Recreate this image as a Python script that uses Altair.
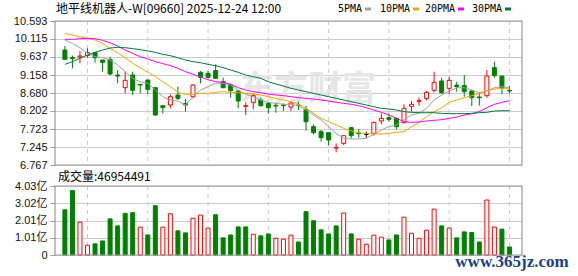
import json
import altair as alt
import pandas as pd

# ---------------- data ----------------
dates = ["09-29", "09-30", "10-02", "10-03", "10-06", "10-08", "10-09", "10-10", "10-13", "10-14",
         "10-15", "10-16", "10-17", "10-20", "10-21", "10-22", "10-23", "10-24", "10-27", "10-28",
         "10-30", "10-31", "11-03", "11-04", "11-05", "11-06", "11-07", "11-10", "11-11", "11-12",
         "11-13", "11-14", "11-17", "11-18", "11-19", "11-20", "11-21", "11-24", "11-25", "11-26",
         "11-27", "11-28", "12-01", "12-02", "12-03", "12-04", "12-05", "12-08", "12-09", "12-10",
         "12-11", "12-12", "12-15", "12-16", "12-17", "12-18", "12-19", "12-22", "12-23", "12-24"]

opens = [9.822, 9.618, 9.636, 9.672, 9.751, 9.556, 9.574, 9.158, 8.821, 9.158,
         8.910, 9.025, 8.821, 8.343, 8.361, 8.627, 8.405, 8.582, 9.229, 9.202,
         9.273, 8.981, 8.892, 8.733, 8.325, 8.432, 8.494, 8.405, 8.352, 8.361,
         8.308, 8.361, 8.246, 7.785, 7.652, 7.626, 7.218, 7.342, 7.759, 7.617,
         7.582, 7.608, 7.936, 8.024, 8.007, 7.891, 8.325, 8.458, 8.538, 8.751,
         8.999, 8.804, 8.892, 8.875, 8.733, 8.573, 8.609, 9.353, 9.131, 8.751]

closes = [9.574, 9.592, 9.663, 9.751, 9.618, 9.494, 9.185, 9.131, 9.016, 8.751,
          8.892, 8.777, 8.095, 8.290, 8.582, 8.538, 8.361, 8.892, 9.096, 9.096,
          9.069, 8.821, 8.742, 8.467, 8.343, 8.609, 8.343, 8.290, 8.334, 8.343,
          8.414, 8.343, 7.918, 7.626, 7.493, 7.431, 7.236, 7.546, 7.546, 7.599,
          7.582, 7.900, 8.007, 7.980, 7.785, 8.272, 8.379, 8.476, 8.697, 8.963,
          8.689, 9.016, 8.848, 8.715, 8.556, 8.556, 9.131, 9.140, 8.804, 8.733]

highs = [9.928, 9.672, 9.796, 9.866, 9.751, 9.556, 9.645, 9.291, 9.246, 9.246,
         8.910, 9.025, 8.821, 8.343, 8.644, 8.848, 8.520, 8.910, 9.264, 9.264,
         9.441, 9.087, 8.937, 8.733, 8.432, 8.662, 8.556, 8.432, 8.432, 8.405,
         8.449, 8.449, 8.343, 7.847, 7.697, 7.635, 7.342, 7.564, 7.785, 7.723,
         7.652, 7.918, 8.139, 8.139, 8.024, 8.379, 8.467, 8.556, 8.733, 9.246,
         9.087, 9.114, 8.981, 9.158, 8.759, 8.697, 9.291, 9.512, 9.131, 8.866]

lows = [9.556, 9.335, 9.468, 9.618, 9.486, 9.246, 9.158, 8.937, 8.671, 8.627,
        8.671, 8.653, 8.077, 8.131, 8.272, 8.494, 8.184, 8.538, 8.937, 9.069,
        9.052, 8.804, 8.556, 8.272, 8.095, 8.246, 8.317, 8.131, 8.157, 8.201,
        8.201, 8.228, 7.679, 7.582, 7.387, 7.280, 7.103, 7.298, 7.475, 7.493,
        7.493, 7.546, 7.847, 7.918, 7.714, 7.874, 8.184, 8.343, 8.485, 8.697,
        8.653, 8.653, 8.715, 8.582, 8.334, 8.343, 8.556, 9.087, 8.653, 8.671]

volumes = [264000000, 376000000, 192000000, 57000000, 65000000, 82000000, 211000000, 170000000, 243000000, 247000000,
           163000000, 117000000, 288000000, 163000000, 241000000, 141000000, 129000000, 215000000, 233000000, 157000000,
           235000000, 100000000, 117000000, 164000000, 164000000, 121000000, 112000000, 123000000, 98000000, 92000000,
           116000000, 76000000, 253000000, 200000000, 147000000, 123000000, 170000000, 245000000, 123000000, 92000000,
           63000000, 116000000, 104000000, 88000000, 117000000, 221000000, 127000000, 98000000, 145000000, 268000000,
           170000000, 157000000, 100000000, 135000000, 131000000, 76000000, 321000000, 163000000, 151000000, 46954491]

# volume bar colour as drawn (R = red hollow, G = green filled)
vol_colour = ["G", "G", "R", "R", "G", "G", "G", "G", "G", "G",
              "R", "G", "G", "R", "R", "G", "G", "R", "R", "R",
              "G", "G", "G", "G", "G", "R", "G", "G", "R", "R",
              "R", "G", "G", "G", "G", "G", "G", "R", "G", "R",
              "R", "R", "R", "G", "G", "R", "R", "R", "R", "R",
              "G", "R", "G", "G", "G", "G", "R", "R", "G", "G"]

ma5 = [10.088, 9.999, 9.884, 9.734, 9.645, 9.618, 9.556, 9.424, 9.246, 9.069,
       8.981, 8.937, 8.759, 8.582, 8.494, 8.467, 8.361, 8.582, 8.759, 8.848,
       8.937, 8.937, 8.892, 8.759, 8.644, 8.582, 8.494, 8.432, 8.405, 8.379,
       8.379, 8.343, 8.228, 8.095, 7.962, 7.785, 7.608, 7.475, 7.458, 7.458,
       7.475, 7.582, 7.697, 7.785, 7.830, 7.962, 8.095, 8.139, 8.272, 8.494,
       8.627, 8.733, 8.821, 8.821, 8.759, 8.689, 8.733, 8.821, 8.848, 8.821]

ma10 = [10.265, 10.221, 10.176, 10.132, 10.088, 9.999, 9.866, 9.751, 9.618, 9.468,
        9.353, 9.229, 9.114, 8.981, 8.848, 8.697, 8.644, 8.644, 8.671, 8.671,
        8.697, 8.715, 8.697, 8.689, 8.671, 8.653, 8.627, 8.582, 8.538, 8.494,
        8.449, 8.379, 8.272, 8.139, 8.007, 7.918, 7.830, 7.741, 7.670, 7.626,
        7.608, 7.590, 7.590, 7.608, 7.635, 7.652, 7.785, 7.900, 8.051, 8.184,
        8.290, 8.432, 8.494, 8.556, 8.609, 8.662, 8.733, 8.786, 8.804, 8.804]

ma20 = [10.106, 10.106, 10.123, 10.132, 10.123, 10.079, 10.017, 9.928, 9.822, 9.734,
        9.645, 9.583, 9.512, 9.459, 9.406, 9.335, 9.246, 9.176, 9.105, 9.034,
        8.981, 8.963, 8.910, 8.821, 8.759, 8.715, 8.689, 8.653, 8.627, 8.609,
        8.582, 8.556, 8.538, 8.520, 8.494, 8.467, 8.432, 8.405, 8.379, 8.343,
        8.290, 8.228, 8.166, 8.095, 8.007, 7.918, 7.900, 7.909, 7.936, 7.954,
        7.971, 8.007, 8.042, 8.095, 8.131, 8.184, 8.290, 8.379, 8.432, 8.476]

ma30 = [9.441, 9.512, 9.601, 9.689, 9.760, 9.822, 9.875, 9.893, 9.884, 9.858,
        9.831, 9.796, 9.760, 9.707, 9.672, 9.618, 9.556, 9.512, 9.486, 9.441,
        9.406, 9.353, 9.291, 9.229, 9.158, 9.114, 9.069, 8.981, 8.919, 8.866,
        8.804, 8.759, 8.715, 8.671, 8.627, 8.582, 8.538, 8.494, 8.449, 8.405,
        8.361, 8.317, 8.272, 8.255, 8.228, 8.184, 8.166, 8.157, 8.157, 8.157,
        8.139, 8.131, 8.131, 8.131, 8.139, 8.157, 8.166, 8.201, 8.210, 8.210]

ma_names = ["5PMA", "10PMA", "20PMA", "30PMA"]
ma_colors = ["#a0a0a0", "#f5a800", "#ff00ff", "#007a3d"]

price_ticks = [10.593, 10.115, 9.637, 9.158, 8.680, 8.202, 7.723, 7.245, 6.767]
vol_ticks = [0, 100750000, 201500000, 302250000, 403000000]
vol_tick_labels = ["0", "1.01亿", "2.01亿", "3.02亿", "4.03亿"]
label_idx = [4, 12, 20, 28, 36, 44, 52, 60]

title_text = "地平线机器人-W[09660] 2025-12-24 12:00"
vol_text = "成交量:46954491"
watermark_text = "东方财富"
site_text = "www.365jz.com"

# ---------------- tables ----------------
idx = list(range(1, len(dates) + 1))
candles = pd.DataFrame({"i": idx, "date": dates, "o": opens, "h": highs,
                        "l": lows, "c": closes, "v": volumes})
candles["dir"] = ["up" if c > o else ("down" if c < o else "flat") for o, c in zip(opens, closes)]
candles["vdir"] = ["up" if k == "R" else "down" for k in vol_colour]

ma_rows = []
for name, series in zip(ma_names, [ma5, ma10, ma20, ma30]):
    for i, v in zip(idx, series):
        ma_rows.append({"i": i, "v": v, "name": name})
ma_df = pd.DataFrame(ma_rows)
grid_df = pd.DataFrame({"i": label_idx})
one = pd.DataFrame({"k": [0]})

# ---------------- layout ----------------
W, H = 467, 234
PH = 144           # price panel height
VT, VB = 165, 234  # volume panel top/bottom inside the view


def xs():
    return alt.Scale(domain=[0.35, 61], nice=False, zero=False)


def ys_p():
    return alt.Scale(domain=[6.767, 10.593], range=[PH, 0], nice=False, zero=False)


def ys_v():
    return alt.Scale(domain=[0, 403000000], range=[VB, VT], nice=False, zero=True)


def stroke_scale():
    return alt.Scale(domain=["up", "down", "flat"], range=["#ff0000", "#008000", "#000000"])


def fill_scale():
    return alt.Scale(domain=["up", "down", "flat"], range=["#ffffff", "#008000", "#000000"])


GRID = "#cccccc"
FRAME = "#999999"
LABEL_FONT = "Liberation Sans, Noto Sans CJK SC"
CJK_FONT = "Noto Sans CJK SC"

price_axis = alt.Axis(values=price_ticks, format=".3f", orient="left", grid=True,
                      gridColor=GRID, gridWidth=1, domain=False, ticks=True, tickSize=5,
                      tickColor=FRAME, labelFont=LABEL_FONT, labelFontSize=11,
                      labelColor="#111111", labelPadding=3, title=None,
                      labelOverlap=False, labelFlush=False)
vol_axis = alt.Axis(values=vol_ticks, orient="left", grid=True, gridColor=GRID, gridWidth=1,
                    domain=False, ticks=True, tickSize=5, tickColor=FRAME,
                    labelFont=LABEL_FONT, labelFontSize=11, labelColor="#111111",
                    labelPadding=3, title=None, labelOverlap=False, labelFlush=False,
                    labelExpr=json.dumps(vol_tick_labels, ensure_ascii=False)
                    + "[indexof(" + json.dumps(vol_ticks) + ", datum.value)]")
x_axis = alt.Axis(values=label_idx, orient="bottom", grid=False, domain=False, ticks=False,
                  labelFont=LABEL_FONT, labelFontSize=11, labelColor="#ee0000",
                  labelPadding=5, title=None, labelOverlap=False, labelFlush=False,
                  labelExpr=json.dumps(dates) + "[round(datum.value) - 1]")

# ---------------- price panel ----------------
wm = alt.Chart(one).mark_text(font=CJK_FONT, fontSize=34, fontWeight="bold",
                              color="#e6e6e6", align="center", baseline="middle").encode(
    x=alt.value(253), y=alt.value(69), text=alt.value(watermark_text))

vgrid_p = alt.Chart(grid_df).mark_rule(color="#c8c8c8", strokeDash=[4, 4], strokeWidth=1).encode(
    x=alt.X("i:Q", scale=xs(), axis=None), y=alt.value(0), y2=alt.value(PH))

wicks = alt.Chart(candles).mark_rule(strokeWidth=1).encode(
    x=alt.X("i:Q", scale=xs(), axis=None),
    y=alt.Y("l:Q", scale=ys_p(), axis=price_axis),
    y2="h:Q",
    stroke=alt.Stroke("dir:N", scale=stroke_scale(), legend=None))

bodies = alt.Chart(candles).mark_bar(size=4, strokeWidth=1).encode(
    x=alt.X("i:Q", scale=xs(), axis=None),
    y=alt.Y("o:Q", scale=ys_p(), axis=None),
    y2="c:Q",
    fill=alt.Fill("dir:N", scale=fill_scale(), legend=None),
    stroke=alt.Stroke("dir:N", scale=stroke_scale(), legend=None))

lines = alt.Chart(ma_df).mark_line(strokeWidth=1).encode(
    x=alt.X("i:Q", scale=xs(), axis=None),
    y=alt.Y("v:Q", scale=ys_p(), axis=None),
    color=alt.Color("name:N", scale=alt.Scale(domain=ma_names, range=ma_colors), legend=None),
    order="i:Q")

frame_p = alt.Chart(one).mark_rect(fillOpacity=0, stroke=FRAME, strokeWidth=1.2).encode(
    x=alt.value(0), x2=alt.value(W), y=alt.value(0), y2=alt.value(PH))

# ---------------- volume panel ----------------
vgrid_v = alt.Chart(grid_df).mark_rule(color="#c8c8c8", strokeDash=[4, 4], strokeWidth=1).encode(
    x=alt.X("i:Q", scale=xs(), axis=None), y=alt.value(VT), y2=alt.value(VB))

vbars = alt.Chart(candles).mark_bar(size=4, strokeWidth=1).encode(
    x=alt.X("i:Q", scale=xs(), axis=x_axis),
    y=alt.Y("v:Q", scale=ys_v(), axis=vol_axis),
    fill=alt.Fill("vdir:N", scale=fill_scale(), legend=None),
    stroke=alt.Stroke("vdir:N", scale=stroke_scale(), legend=None))

frame_v = alt.Chart(one).mark_rect(fillOpacity=0, stroke=FRAME, strokeWidth=1.2).encode(
    x=alt.value(0), x2=alt.value(W), y=alt.value(VT), y2=alt.value(VB))

# ---------------- texts ----------------
title = alt.Chart(one).mark_text(font=CJK_FONT, fontSize=12, color="#000000",
                                 align="left", baseline="middle").encode(
    x=alt.value(1), y=alt.value(-12), text=alt.value(title_text))

vol_label = alt.Chart(one).mark_text(font=CJK_FONT, fontSize=12, color="#000000",
                                     align="left", baseline="middle").encode(
    x=alt.value(3), y=alt.value(156), text=alt.value(vol_text))

site = alt.Chart(one).mark_text(font="Liberation Serif", fontSize=17, fontWeight="bold",
                                color="#1c3f8c", align="center", baseline="middle").encode(
    x=alt.value(457), y=alt.value(241), text=alt.value(site_text))

legend_layers = []
text_x = [283, 325, 370, 417]
box_x = [310, 358, 403, 450]
for name, col, tx, bx in zip(ma_names, ma_colors, text_x, box_x):
    legend_layers.append(
        alt.Chart(one).mark_text(font="DejaVu Sans Mono", fontSize=10, color="#000000",
                                 align="left", baseline="middle").encode(
            x=alt.value(tx), y=alt.value(-12), text=alt.value(name)))
    legend_layers.append(
        alt.Chart(one).mark_rect(color=col).encode(
            x=alt.value(bx), x2=alt.value(bx + 6), y=alt.value(-13.5), y2=alt.value(-10.5)))

chart = alt.layer(
    wm, vgrid_p, vgrid_v, wicks, bodies, lines, vbars, frame_p, frame_v,
    title, vol_label, *legend_layers, site
).resolve_scale(y="independent").resolve_axis(y="independent").properties(
    width=W, height=H,
    padding={"left": 55, "top": 21, "right": 56, "bottom": 21},
    autosize=alt.AutoSizeParams(type="none"),
    background="#ffffff",
).configure_view(strokeWidth=0)

chart.save("out.html", embed_options={"renderer": "svg", "actions": False})
